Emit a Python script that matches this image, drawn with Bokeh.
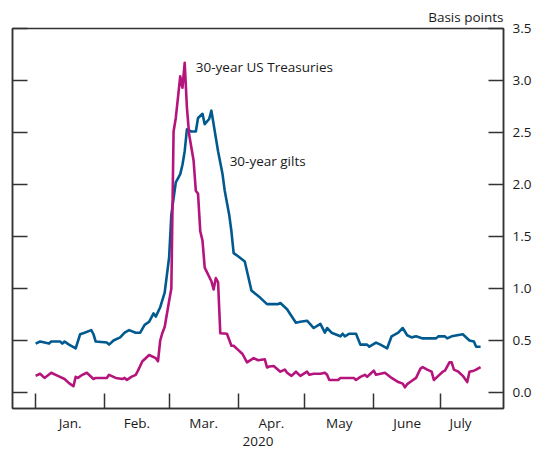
from bokeh.plotting import figure
from bokeh.models import (FixedTicker, LinearAxis, Range1d, Label,
                          PrintfTickFormatter, CustomJSTickFormatter)
from bokeh.embed import file_html
from bokeh.resources import INLINE

# ---- data -------------------------------------------------------------
months = ["Jan.", "Feb.", "Mar.", "Apr.", "May", "June", "July"]
month_start = [0, 31, 60, 91, 121, 152, 182]      # days since 1 Jan 2020
month_end = [31, 60, 91, 121, 152, 182, 200]      # July: last observation
year_label = "2020"
y_ticks = [0.0, 0.5, 1.0, 1.5, 2.0, 2.5, 3.0, 3.5]

# 30-year gilts (days since 1 Jan 2020, basis points)
gilt_day = [0, 2, 6, 7, 11, 12, 13, 15, 18, 20, 22, 25, 26, 27, 32, 33, 35, 38,
            40, 42, 45, 47, 49, 51, 53, 54, 56, 58, 60, 61, 63, 65, 66, 67, 68,
            70, 72, 73, 75, 76, 78, 79, 81, 82, 84, 85, 87, 88, 89, 91, 94, 97,
            101, 104, 109, 110, 113, 117, 119, 122, 125, 128, 130, 131, 133,
            137, 138, 139, 141, 144, 146, 149, 150, 153, 155, 158, 160, 163,
            165, 167, 169, 171, 174, 180, 181, 184, 185, 187, 192, 195, 197,
            198, 200]
gilt_bp = [0.47, 0.49, 0.47, 0.49, 0.49, 0.47, 0.49, 0.46, 0.425, 0.56, 0.575,
           0.60, 0.56, 0.49, 0.48, 0.46, 0.50, 0.53, 0.575, 0.60, 0.575, 0.575,
           0.65, 0.68, 0.76, 0.73, 0.82, 0.96, 1.30, 1.71, 2.02, 2.10, 2.19,
           2.32, 2.53, 2.51, 2.51, 2.64, 2.68, 2.58, 2.63, 2.71, 2.45, 2.32,
           2.10, 1.94, 1.71, 1.55, 1.34, 1.31, 1.26, 0.98, 0.91, 0.85, 0.85,
           0.86, 0.80, 0.67, 0.68, 0.69, 0.62, 0.66, 0.575, 0.62, 0.575, 0.54,
           0.565, 0.54, 0.565, 0.565, 0.46, 0.46, 0.44, 0.48, 0.46, 0.425, 0.54,
           0.575, 0.62, 0.55, 0.53, 0.54, 0.52, 0.52, 0.54, 0.54, 0.52, 0.54,
           0.56, 0.50, 0.49, 0.44, 0.44]

# 30-year US Treasuries
ust_day = [0, 2, 4, 7, 10, 13, 15, 17, 18, 19, 21, 23, 26, 27, 32, 33, 36, 39,
           40, 41, 43, 45, 46, 48, 49, 51, 54, 55, 56, 57, 58, 60, 61, 62, 63,
           65, 66, 67, 68, 69, 71, 72, 73, 74, 75, 76, 79, 80, 81, 82, 83, 86,
           88, 89, 91, 93, 95, 98, 100, 103, 104, 105, 107, 110, 112, 113, 115,
           117, 119, 122, 123, 125, 128, 130, 131, 132, 136, 137, 143, 144, 146,
           148, 149, 150, 152, 153, 155, 157, 160, 163, 165, 166, 167, 169, 171,
           173, 174, 176, 178, 179, 181, 183, 184, 186, 187, 188, 190, 192, 194,
           195, 197, 198, 200]
ust_bp = [0.16, 0.18, 0.14, 0.19, 0.16, 0.13, 0.09, 0.06, 0.15, 0.14, 0.17,
          0.19, 0.13, 0.14, 0.14, 0.17, 0.14, 0.13, 0.14, 0.12, 0.15, 0.17,
          0.21, 0.30, 0.32, 0.36, 0.33, 0.30, 0.50, 0.575, 0.63, 0.88, 1.00,
          2.51, 2.64, 3.04, 2.93, 3.17, 2.74, 2.48, 2.23, 1.94, 1.91, 1.55,
          1.46, 1.20, 1.07, 0.99, 1.10, 1.06, 0.57, 0.565, 0.45, 0.45, 0.41,
          0.37, 0.29, 0.33, 0.31, 0.32, 0.24, 0.25, 0.255, 0.20, 0.22, 0.19,
          0.16, 0.20, 0.16, 0.20, 0.17, 0.18, 0.18, 0.19, 0.17, 0.12, 0.12,
          0.14, 0.14, 0.12, 0.15, 0.17, 0.15, 0.17, 0.21, 0.17, 0.18, 0.19,
          0.14, 0.10, 0.085, 0.05, 0.08, 0.11, 0.14, 0.23, 0.245, 0.22, 0.20,
          0.12, 0.16, 0.20, 0.21, 0.29, 0.29, 0.22, 0.20, 0.16, 0.10, 0.20,
          0.21, 0.22, 0.245]

# ---- styling ----------------------------------------------------------
FONT = "Open Sans"
FS = "13.5px"
TXT = "#1a1a1a"
AX = "#333333"
BLUE = "#005a8f"
MAGENTA = "#b5147c"

p = figure(frame_width=491, frame_height=380,
           x_range=Range1d(-10.4, 210.3), y_range=Range1d(-0.154, 3.5),
           output_backend="svg", toolbar_location=None,
           y_axis_location="right", min_border_left=12, min_border_right=32,
           min_border_top=28, min_border_bottom=42)
p.grid.visible = False
p.outline_line_color = AX
p.outline_line_width = 1.5
p.background_fill_color = "white"
p.border_fill_color = "white"

p.title.text = "Basis points"
p.title.align = "right"
p.title.text_font = FONT
p.title.text_font_size = FS
p.title.text_font_style = "normal"
p.title.text_color = TXT
p.title.standoff = 6
p.title.offset = 0

# x axis: month boundaries as (minor) inward ticks, labels mid-month
centers = [(s + e) / 2 for s, e in zip(month_start, month_end)]
xa = p.xaxis[0]
xa.ticker = FixedTicker(ticks=centers, minor_ticks=month_start)
xa.major_label_overrides = {c: m for c, m in zip(centers, months)}
xa.major_tick_in = 0
xa.major_tick_out = 0
xa.minor_tick_in = 15
xa.minor_tick_out = 0
xa.minor_tick_line_color = AX
xa.minor_tick_line_width = 1.5
xa.axis_line_color = AX
xa.axis_line_width = 1.5
xa.major_label_text_font = FONT
xa.major_label_text_font_size = FS
xa.major_label_text_color = TXT
xa.major_label_standoff = 5
xa.axis_label = year_label
xa.axis_label_text_font = FONT
xa.axis_label_text_font_size = FS
xa.axis_label_text_font_style = "normal"
xa.axis_label_text_color = TXT
xa.axis_label_standoff = 2

# right y axis with labels
ya = p.yaxis[0]
ya.ticker = FixedTicker(ticks=y_ticks)
ya.formatter = PrintfTickFormatter(format="%.1f")
ya.major_tick_in = 15
ya.major_tick_out = 0
ya.minor_tick_line_color = None
ya.major_tick_line_color = AX
ya.major_tick_line_width = 1.5
ya.axis_line_color = AX
ya.axis_line_width = 1.5
ya.major_label_text_font = FONT
ya.major_label_text_font_size = FS
ya.major_label_text_color = TXT
ya.major_label_standoff = 9

# left y axis: inward ticks only, no labels
la = LinearAxis(ticker=FixedTicker(ticks=y_ticks),
                formatter=CustomJSTickFormatter(code="return ''"))
la.major_tick_in = 15
la.major_tick_out = 0
la.minor_tick_line_color = None
la.major_tick_line_color = AX
la.major_tick_line_width = 1.5
la.axis_line_color = AX
la.axis_line_width = 1.5
la.major_label_standoff = 0
p.add_layout(la, "left")

p.line(gilt_day, gilt_bp, line_color=BLUE, line_width=2.6, line_join="round")
p.line(ust_day, ust_bp, line_color=MAGENTA, line_width=2.6, line_join="round")

p.add_layout(Label(x=72.0, y=3.13, text="30-year US Treasuries", text_font=FONT,
                   text_font_size=FS, text_color=TXT, text_baseline="middle"))
p.add_layout(Label(x=87.2, y=2.23, text="30-year gilts", text_font=FONT,
                   text_font_size=FS, text_color=TXT, text_baseline="middle"))

open("out.html", "w").write(file_html(p, INLINE))
